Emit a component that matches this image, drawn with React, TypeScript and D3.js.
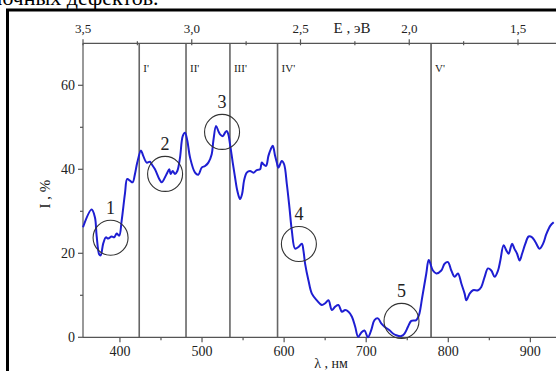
import React from "react";
import * as d3 from "d3";

// spectrum: wavelength (nm) and intensity (%)
const wavelength = [355, 365.5, 369.5, 371.6, 374.8, 376.5, 379.6, 382.9, 385.7, 389.9, 393, 396, 399.1, 402.1, 406.1, 408.9, 412.2, 415.5, 418.3, 421.1, 425.6, 428.4, 432.6, 436.6, 438.7, 442.7, 447.9, 450.9, 454.9, 457.7, 460.1, 461.8, 464.3, 467.1, 469.9, 473.2, 476.5, 479.3, 482.1, 485.4, 491.5, 495.5, 499.6, 503.7, 507.7, 511.8, 513.8, 517.1, 519.9, 522, 525.2, 528, 530.1, 532.1, 534.1, 537.4, 540.2, 543, 546.3, 548.8, 551.2, 554.5, 558.5, 562.6, 566.7, 570.7, 572.8, 574.8, 578, 580.9, 583.8, 586.2, 589, 591.1, 593, 597.2, 600, 603.3, 606.5, 609.4, 613.4, 617.4, 621.6, 623.5, 625.6, 629.6, 633.8, 639.9, 646, 650, 654, 658.2, 662.2, 666.2, 670.4, 674.4, 678.4, 682.6, 686.6, 690.2, 693.9, 697.9, 702.1, 706.1, 710.1, 714.3, 718.3, 722.3, 728.4, 732.6, 736.6, 742.7, 746.7, 750.9, 754.9, 761, 764.3, 768.3, 773.2, 776.2, 781.3, 785.4, 791.5, 795.5, 799.6, 803.7, 807.7, 811.8, 815.9, 819.9, 822, 826, 830.1, 836.2, 840.2, 844.3, 848.4, 852.4, 856.5, 860.6, 863.4, 867.4, 870.7, 873.5, 877.7, 880.5, 883.8, 886.9, 889.9, 893.9, 897.9, 902.1, 906.1, 911.3, 915.5, 919.5, 924.4, 928.4];
const intensity = [26.2, 30.4, 28.6, 24.2, 19.7, 19.5, 22.3, 23.8, 23.5, 24.0, 23.8, 24.7, 24.2, 27.8, 34.2, 37.7, 37.3, 36.9, 38.9, 41.6, 44.5, 43.2, 41.6, 41.8, 41.2, 40.0, 37.7, 36.9, 38.1, 39.2, 40.0, 38.9, 39.6, 38.9, 39.6, 42.8, 47.9, 48.7, 46.8, 42.8, 39.2, 38.7, 40.4, 40.8, 41.6, 43.6, 46.8, 50.3, 49.1, 48.3, 47.9, 48.7, 49.1, 48.3, 46.0, 41.6, 38.1, 34.9, 32.9, 34.1, 37.3, 39.2, 39.6, 39.2, 39.8, 40.0, 41.6, 41.2, 40.8, 43.2, 44.8, 45.6, 43.2, 41.6, 40.4, 42.0, 41.2, 36.5, 30.9, 25.4, 21.1, 21.5, 22.3, 20.7, 17.5, 13.6, 10.4, 8.8, 7.7, 8.1, 8.8, 6.5, 7.3, 7.7, 6.1, 6.5, 6.1, 4.9, 2.5, 0.1, 1.1, 1.6, 0, 1.7, 4.1, 4.5, 3.3, 2.5, 1.7, 0.9, 0.5, 0.3, 0.9, 2.5, 3.9, 4.1, 5.3, 9.6, 15.2, 18.4, 15.9, 15.2, 15.9, 17.5, 17.9, 15.9, 14.4, 15.2, 12.8, 10.4, 8.8, 10.4, 11.2, 11.2, 12.0, 14.4, 16.4, 15.9, 14.4, 15.9, 18.3, 21.9, 20.7, 19.9, 22.3, 21.1, 19.9, 18.3, 19.9, 22.3, 24.0, 23.8, 22.7, 21.1, 22.3, 24.6, 26.6, 27.4];

// region boundaries (nm) and labels
const boundaries = [423.5, 480.5, 534, 592, 779];
const regionLabels = ["I'", "II'", "III'", "IV'", "V'"];

// annotated circles (nm, %) and numbers
const circleLambda = [388.6, 455, 524.4, 618, 743];
const circleValue = [23.7, 38.9, 48.9, 22.2, 3.9];
const circleNumbers = ["1", "2", "3", "4", "5"];

const xMajorTicks = [400, 500, 600, 700, 800, 900];
const xMinorTicks = [450, 550, 650, 750, 850];
const yMajorTicks = [0, 20, 40, 60];
const yMinorTicks = [10, 30, 50];
const eMajorTicks = [3.5, 3.0, 2.5, 2.0, 1.5];
const eMinorTicks = [3.25, 2.75, 2.25, 1.75];

const W = 556;
const H = 371;
const L = 83;
const R = 555;
const T = 43.3;
const B = 337.3;

export default function App() {
  const x = d3.scaleLinear().domain([355, 930]).range([L, R]);
  const y = d3.scaleLinear().domain([0, 70]).range([B, T]);
  const e = d3.scaleLinear().domain([3.5, 1.5]).range([L, 518]);
  const pts: [number, number][] = wavelength.map((w, i) => [w, intensity[i]]);
  const line = d3
    .line<[number, number]>()
    .x((d) => x(d[0]))
    .y((d) => y(d[1]))
    .curve(d3.curveCatmullRom.alpha(0.5));
  const fmt = (v: number) => v.toFixed(1).replace(".", ",");
  const serif = "'Liberation Serif', 'Times New Roman', serif";
  const axisColor = "#555";
  return (
    <svg
      width={W}
      height={H}
      style={{ position: "absolute", left: 0, top: 0, background: "#fff" }}
      fontFamily={serif}
    >
      <rect x={0} y={0} width={W} height={H} fill="#fff" />
      <text x={-3} y={5} fontSize={22} fill="#000">
        ючных дефектов.
      </text>
      {/* frame */}
      <line x1={7.5} y1={10} x2={7.5} y2={H} stroke="#000" strokeWidth={3} />
      <line x1={6} y1={10} x2={W} y2={10} stroke="#000" strokeWidth={3} />

      {/* region lines */}
      {boundaries.map((b, i) => (
        <line
          key={"b" + i}
          x1={x(b)}
          x2={x(b)}
          y1={T}
          y2={B}
          stroke={i === 4 ? "#222" : "#666"}
          strokeWidth={i === 4 ? 1.2 : 1.6}
        />
      ))}
      {boundaries.map((b, i) => (
        <text key={"rl" + i} x={x(b) + 4} y={72} fontSize={11} fill="#222">
          {regionLabels[i]}
        </text>
      ))}

      {/* axes */}
      <line x1={L} x2={L} y1={T} y2={B} stroke={axisColor} strokeWidth={1.2} />
      <line x1={L} x2={W} y1={B} y2={B} stroke={axisColor} strokeWidth={1.2} />
      <line x1={L} x2={W} y1={T} y2={T} stroke={axisColor} strokeWidth={1.2} />

      {xMajorTicks.map((t) => (
        <g key={"xt" + t}>
          <line x1={x(t)} x2={x(t)} y1={B} y2={B + 5} stroke={axisColor} strokeWidth={1.2} />
          <text x={x(t)} y={356} fontSize={14} textAnchor="middle" fill="#222">
            {t}
          </text>
        </g>
      ))}
      {xMinorTicks.map((t) => (
        <line key={"xm" + t} x1={x(t)} x2={x(t)} y1={B} y2={B + 3} stroke={axisColor} strokeWidth={1.2} />
      ))}
      {yMajorTicks.map((t) => (
        <g key={"yt" + t}>
          <line x1={L - 5} x2={L} y1={y(t)} y2={y(t)} stroke={axisColor} strokeWidth={1.2} />
          <text x={L - 8} y={y(t) + 5} fontSize={14} textAnchor="end" fill="#222">
            {t}
          </text>
        </g>
      ))}
      {yMinorTicks.map((t) => (
        <line key={"ym" + t} x1={L - 3} x2={L} y1={y(t)} y2={y(t)} stroke={axisColor} strokeWidth={1.2} />
      ))}
      {eMajorTicks.map((t) => (
        <g key={"et" + t}>
          <line x1={e(t)} x2={e(t)} y1={T - 4} y2={T + 2} stroke={axisColor} strokeWidth={1.2} />
          <text x={e(t)} y={33} fontSize={13} textAnchor="middle" fill="#222">
            {fmt(t)}
          </text>
        </g>
      ))}
      {eMinorTicks.map((t) => (
        <line key={"em" + t} x1={e(t)} x2={e(t)} y1={T - 2} y2={T + 2} stroke={axisColor} strokeWidth={1.2} />
      ))}

      {/* axis titles */}
      <text x={352} y={33} fontSize={15} textAnchor="middle" fill="#222">
        E , эВ
      </text>
      <text x={331} y={368} fontSize={14} textAnchor="middle" fill="#222">
        λ , нм
      </text>
      <text
        transform={`translate(50,194) rotate(-90)`}
        fontSize={15}
        textAnchor="middle"
        fill="#222"
      >
        I , %
      </text>

      {/* spectrum */}
      <path d={line(pts) ?? ""} fill="none" stroke="#1e1ed2" strokeWidth={2} strokeLinejoin="round" />

      {/* annotations */}
      {circleLambda.map((c, i) => (
        <g key={"c" + i}>
          <circle cx={x(c)} cy={y(circleValue[i])} r={17.5} fill="none" stroke="#333" strokeWidth={1.1} />
          <text x={x(c)} y={y(circleValue[i]) - 24} fontSize={18} textAnchor="middle" fill="#222">
            {circleNumbers[i]}
          </text>
        </g>
      ))}
    </svg>
  );
}
